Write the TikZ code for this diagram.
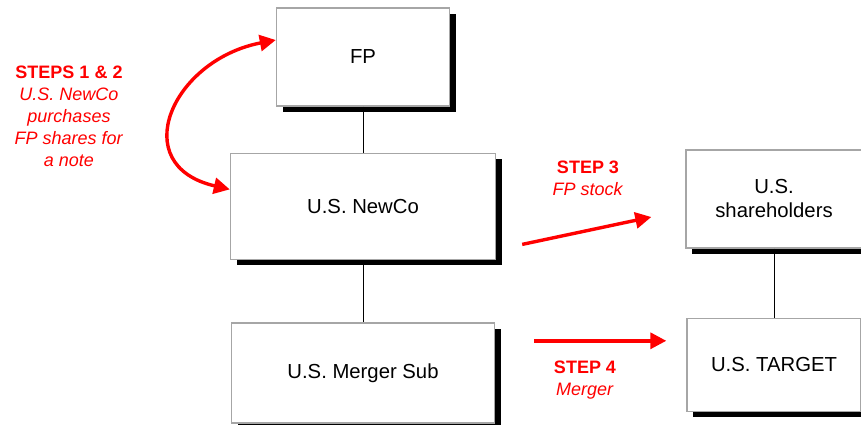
\documentclass[tikz,border=0pt]{standalone}
\usepackage{fontspec}
\setmainfont{Liberation Sans}
\usepackage{xcolor}
\usetikzlibrary{arrows.meta,positioning,calc,shadows}
\definecolor{stepred}{RGB}{255,0,0}
\tikzset{
	entity/.style={draw=gray!70, line width=1.4pt, fill=white, align=center,
		font=\fontsize{20.3}{24}\selectfont,
		drop shadow={shadow xshift=6pt, shadow yshift=-6pt, fill=black, opacity=1}},
	link/.style={line width=1pt},
	redarrow/.style={-{Triangle[length=16pt,width=16pt]}, draw=stepred, line width=3.4pt},
	steplabel/.style={text=stepred, align=center, font=\fontsize{18}{22}\selectfont}
}
\begin{document}
\begin{tikzpicture}[x=1pt, y=-1pt]
	\useasboundingbox (0,0) rectangle (861,425);
	
	%% -- Left column
	\node[entity, minimum width=173pt, minimum height=98pt] (fp) at (363,57) {FP};
	
	\node[entity, minimum width=265pt, minimum height=106pt,
	below=46pt of fp] (newco) {U.S. NewCo};
	
	\node[entity, minimum width=263pt, minimum height=100pt,
	below=62pt of newco] (mergersub) {U.S. Merger Sub};
	
	%% -- Right column
	\node[entity, minimum width=176pt, minimum height=98pt] (holders) at (774,199)
	{U.S.\\shareholders};
	
	\node[entity, minimum width=174pt, minimum height=93pt,
	below=69pt of holders] (target) {U.S. TARGET};
	
	%% -- Ownership lines
	\draw[link] (fp.south) -- (fp.south |- newco.north);
	\draw[link] (newco.south) -- (newco.south |- mergersub.north);
	\draw[link] (holders.south) -- (holders.south |- target.north);
	
	%% -- Steps 1 & 2
	\draw[redarrow, {Triangle[length=16pt,width=16pt]}-{Triangle[length=16pt,width=16pt]}]
	([yshift=17pt]fp.west) .. controls +(-104,20) and +(-104,-24) .. ([yshift=17pt]newco.west);
	\node[steplabel] (s12) at (69,116)
	{\textbf{STEPS 1 \& 2}\\\textit{U.S. NewCo}\\\textit{purchases}\\\textit{FP shares for}\\\textit{a note}};
	
	%% -- Step 3
	\coordinate (s3from) at ([xshift=26pt, yshift=-38pt]newco.east);
	\coordinate (s3to) at ([xshift=-34pt, yshift=-18pt]holders.west);
	\draw[redarrow] (s3from) -- (s3to);
	\node[steplabel] (s3) at (588,178) {\textbf{STEP 3}\\\textit{FP stock}};
	
	%% -- Step 4
	\coordinate (s4from) at ([xshift=39pt, yshift=32pt]mergersub.east);
	\coordinate (s4to) at ([xshift=-20pt] s4from -| target.west);
	\draw[redarrow] (s4from) -- (s4to);
	\node[steplabel] (s4) at (585,380) {\textbf{STEP 4}\\\textit{Merger}};
	
\end{tikzpicture}
\end{document}
